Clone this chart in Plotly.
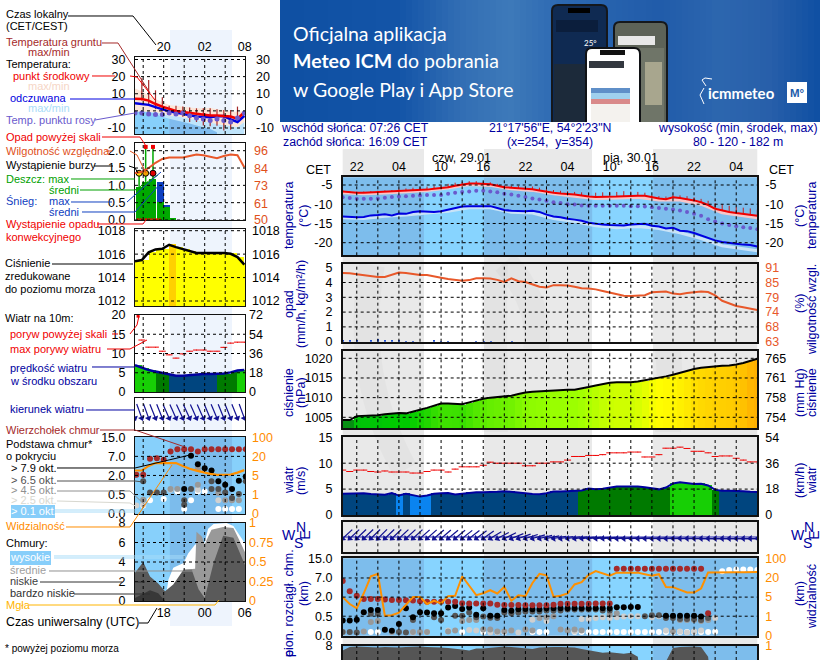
import math
import plotly.graph_objects as go

W, H = 820, 660
FONT = "Liberation Sans"
NAVY = "#0000a0"

# ---------- main (right) column, hourly from 28.01 20:00 CET ----------
hours = list(range(60))
temp_mid = [-6.7,-6.9,-7.0,-7.0,-6.9,-6.8,-6.8,-6.7,-6.6,-6.6,-6.4,-6.3,-6.2,-6.0,-5.8,-5.6,-5.2,-4.9,-4.6,-4.6,-4.7,-4.8,-5.2,-5.6,-5.7,-5.8,-5.9,-6.1,-6.4,-6.8,-7.0,-7.2,-7.3,-7.5,-7.7,-8.0,-8.1,-8.1,-8.1,-8.0,-7.9,-7.8,-7.8,-7.8,-8.2,-8.5,-8.7,-8.2,-8.4,-8.7,-9.0,-9.5,-10.2,-11.2,-11.7,-12.0,-12.3,-12.5,-12.8,-13.0]
feels_mid = [-13.2,-13.3,-13.4,-13.3,-12.9,-12.8,-12.6,-12.9,-12.4,-12.5,-12.0,-11.8,-11.9,-12.0,-11.8,-11.4,-10.9,-10.6,-10.5,-10.5,-10.4,-10.5,-11.0,-11.5,-11.7,-11.8,-11.8,-11.7,-12.0,-12.7,-13.2,-13.4,-13.8,-14.0,-14.3,-14.8,-15.1,-15.3,-15.4,-15.5,-15.5,-15.3,-15.2,-15.1,-15.6,-15.8,-16.3,-16.1,-16.9,-17.0,-17.5,-18.2,-18.8,-19.4,-19.8,-20.1,-20.3,-20.5,-20.6,-21.0]
dew_point = [-8.2,-8.4,-8.6,-8.6,-8.6,-8.5,-8.3,-8.1,-8.0,-7.9,-7.8,-7.7,-7.6,-7.6,-7.6,-7.3,-7.0,-6.8,-6.7,-6.5,-6.5,-6.7,-6.9,-7.3,-7.5,-7.8,-8.1,-8.5,-8.8,-9.1,-9.5,-9.7,-10.0,-10.1,-10.3,-10.4,-10.4,-10.4,-10.4,-10.4,-10.4,-10.5,-10.5,-10.6,-10.8,-11.0,-11.2,-11.4,-11.6,-12.0,-12.5,-13.0,-13.9,-14.5,-15.0,-15.4,-15.7,-16.0,-16.2,-16.5]
soil_top = [-6.3,-6.6,-6.7,-6.7,-6.6,-6.5,-6.4,-6.3,-6.0,-5.9,-5.7,-5.5,-5.4,-5.2,-5.0,-4.7,-4.4,-4.2,-4.0,-4.0,-4.1,-4.3,-4.7,-5.1,-5.2,-5.2,-5.3,-5.4,-5.7,-6.1,-6.3,-6.5,-6.6,-6.8,-6.9,-7.1,-7.0,-6.9,-6.8,-6.8,-6.6,-6.7,-6.8,-7.0,-7.6,-7.9,-8.0,-7.6,-7.7,-7.9,-8.2,-8.6,-9.1,-9.7,-10.0,-10.4,-10.7,-10.9,-11.1,-11.4]
hours_3 = [0,3,6,9,12,15,18,21,24,27,30,33,36,39,42,45,48,51,54,57,59]
temp_low = [-7.0,-7.3,-7.1,-6.8,-6.4,-5.8,-4.9,-5.1,-6.0,-6.4,-7.3,-7.9,-8.5,-8.4,-8.2,-8.9,-8.9,-10.0,-12.2,-13.0,-13.5]
feels_low = [-13.5,-13.7,-13.1,-12.8,-12.3,-11.8,-10.9,-10.9,-12.1,-12.3,-13.7,-14.5,-15.6,-16.1,-15.8,-16.3,-17.4,-18.9,-20.8,-21.6,-22.1]
humidity = [89.0,88.9,88.5,88.1,87.7,87.5,87.5,88.5,89.2,89.0,88.5,88.2,88.2,87.8,87.2,86.7,86.4,86.1,86.3,87.0,87.0,86.9,86.4,85.6,87.0,85.9,85.6,84.6,83.8,83.5,84.4,84.4,84.3,83.8,83.2,83.1,82.8,82.2,81.6,81.0,80.4,80.3,80.5,80.6,81.7,81.8,82.0,81.2,81.0,81.4,81.6,82.0,81.8,80.5,78.5,77.6,76.5,76.0,75.6,75.0]
rain_h = [0,1,2,4,5,6,7,8,9,10,13,14,15,19,20,21,24]
rain_mm = [.05,.1,.05,.1,.15,.12,.08,.05,.03,.03,.06,.02,.03,.02,.02,.03,.04]
pressure = [1004.3,1004.3,1005.3,1005.4,1005.5,1005.5,1005.8,1006.0,1006.1,1006.0,1006.4,1006.9,1007.4,1008.0,1008.5,1008.5,1008.4,1008.3,1008.8,1009.3,1009.7,1010.0,1010.2,1010.3,1010.5,1010.9,1011.3,1011.5,1011.6,1011.7,1011.9,1011.9,1012.0,1012.0,1012.3,1012.7,1013.1,1013.5,1013.8,1013.9,1013.9,1013.9,1014.1,1014.4,1014.8,1015.1,1015.4,1015.8,1016.3,1016.8,1017.3,1017.6,1017.8,1018.0,1018.1,1018.2,1018.4,1018.8,1019.3,1019.9]
wind = [4.1,4.15,4.2,4.2,4.05,4.0,3.9,4.25,3.75,4.1,3.75,3.55,3.75,4.1,4.2,4.25,3.95,4.1,4.35,4.4,4.4,4.4,4.5,4.6,4.5,4.35,4.2,4.05,4.0,4.2,4.55,4.55,4.6,4.7,4.75,5.1,4.95,5.05,5.3,5.5,5.5,5.5,5.5,5.35,5.15,4.95,5.3,6.1,6.3,6.1,6.0,6.05,5.7,4.85,4.7,4.7,4.7,4.6,4.5,4.45]
gusts = [8.67,8.4,8.67,8.67,8.4,8.3,8.5,8.3,8.3,8.3,8.1,8.1,8.4,8.67,8.67,8.3,8.86,9.3,9.3,9.3,9.6,10.2,10.0,10.0,10.0,10.0,9.5,9.5,10.0,10.0,10.25,10.25,10.6,11.3,11.3,11.5,11.5,11.65,12.0,12.0,12.0,12.15,12.15,11.2,11.2,11.65,12.9,12.9,13.1,12.85,12.3,12.3,12.0,11.3,11.4,11.4,10.95,10.6,10.25,10.25]
wind_dir = [47,47,46,46,46,45,46,46,47,47,47,48,48,49,49,50,50,51,52,53,54,58,62,64,68,70,72,74,76,78,80,81,82,83,84,84,85,85,86,87,87,87,87,88,88,88,88,89,89,89,90,90,90,90,90,90,90,90,90,90]
# cloud base, given as position on the five-step axis (0 km, 0.5, 2, 7, 15)
top_h = list(range(39)) + list(range(39,52)) + [52]
top_lv = [2.84,2.31,2.07,1.9,1.9,1.9,1.88,1.85,1.85,1.84,1.82,1.78,1.76,1.75,1.75,1.75,1.75,1.68,1.67,1.67,1.66,1.67,1.6,1.58,1.58,1.58,1.57,1.57,1.57,1.57,1.6,1.65,1.65,1.65,1.65,1.65,1.66,1.66,1.66,3.48,3.48,3.48,3.48,3.48,3.48,3.48,3.48,3.48,3.48,3.48,3.48,3.48,1.15]
black_h = list(range(43)) + list(range(46,52))
black_lv = [.78,.78,.81,1.21,1.33,1.33,.29,.24,.59,1.41,.95,1.21,1.19,1.16,1.16,1.45,1.53,1.38,1.45,1.07,1.41,1.02,1.02,1.33,1.28,1.36,1.38,1.36,1.36,1.41,1.41,1.41,1.41,1.41,1.41,1.41,1.41,1.41,1.41,1.47,1.47,1.48,1.48,1.03,1.03,1.03,1.03,1.02,.98]
dark_h = [0,1,2,4,5,8,9,10,13,14,16,17,18,19,20,21,22,23,24,25,26,27,28,29,30,31,32,33,34,35,36,37,38,43,44,45,46,47,48,49,50,51,52]
dark_lv = [.17,.17,.15,1.13,1.13,.17,.15,.8,.95,.8,1.02,1.02,1.2,.95,.98,.92,.9,1.2,1.15,1.2,1.25,1.25,1.25,1.3,1.3,1.3,1.35,1.35,1.35,1.35,1.35,1.3,1.3,1.0,1.05,1.05,.9,.9,.85,.85,.85,.8,.9]
gray_h = [3,4,5,7,10,11,12,15,16,17,18,19,20,21,22,23,24,26,27,28,29,30,31,32,33,34,38,39,47,48,49,50,51,52]
gray_lv = [.2,.7,.75,.17,.17,.17,.17,.2,.25,.75,.8,.8,.3,.3,.2,.2,.25,.3,.25,.9,.95,1.0,.3,.25,.3,.25,1.1,1.15,.2,.8,.8,.8,.75,.8]
light_h = [0,10,12,15,18,19,21,22,25,27,28,29,33,34,35,36,37,38,39,40,41,42,44,45,46,48,49,50,51,53]
light_lv = [.17,.15,.17,.25,.28,.25,.15,.15,.15,.82,.9,.75,.2,.85,.85,.9,.95,.9,.95,.98,1.0,1.0,.95,1.0,.25,.2,.15,.2,.25,.9]
white_h = [4,5,17,20,23,27,28,29,33,34,35,36,37,38,39,40,41,42,43,44,45,46,47,48,49,50,51,52,53,54,55,56,57,58,59]
white_lv = [.17,.17,.17,.17,.17,.17,.17,.17,.17,.17,.17,.17,.17,.17,.17,.17,.17,.17,.17,.17,.17,.17,.17,.17,.17,.17,.17,.17,.19,3.35,3.42,3.45,3.45,3.45,3.42]
visibility_lv = [2.0,1.64,1.41,2.2,3.09,3.22,1.03,1.05,1.19,1.6,2.0,2.0,1.64,1.81,1.67,2.05,2.07,3.09,2.6,2.1,2.2,2.36,2.19,2.53,1.81,2.1,2.05,2.74,3.22,3.14,2.02,2.07,2.19,2.66,2.78,3.17,3.36,3.25,3.12,3.28,3.28,3.28,3.28,3.2,3.12,3.2,2.53,2.52,2.4,2.24,2.24,2.45,3.29,3.3,3.3,3.3,3.3,3.3,3.3,3.31]
cloud_cover = [7.55,7.9,7.95,7.9,7.85,7.85,7.9,7.85,7.85,7.9,7.95,7.95,7.9,7.9,7.85,7.8,7.75,7.65,7.55,7.75,7.75,7.8,7.85,7.95,7.9,7.85,7.75,7.7,7.85,7.9,7.9,7.9,7.9,7.85,7.7,7.55,7.45,7.3,7.35,7.25,7.2,7.3,6.9,0,0,0,6.4,7.8,7.9,7.95,7.95,7.9,6.9,0,0,0,0,0,0,0]

# ---------- overview (left) column ----------
t = list(range(17))
l_temp = [7.1,6.9,6.0,4.0,2.5,1.0,-0.1,-0.6,-1.2,-1.7,-2.3,-2.7,-2.7,-2.8,-3.3,-4.6,-0.8]
l_feels = [4.4,4.0,3.5,2.2,1.0,-0.3,-1.0,-1.7,-2.5,-3.3,-3.5,-3.7,-3.1,-3.0,-5.0,-6.5,-2.9]
l_dew = [-1.3,-1.3,-1.8,-2.1,-2.1,-1.3,-1.8,-1.3,-2.9,-4.2,-4.8,-5.6,-4.8,-5.6,-6.5,-4.2,-1.3]
l_peach = [13,11.5,9,7,5,3.5,3,2.5,1.8,1.5,1.5,1.8,1,.5,-.5,-.5,-.3]
l_pale = [-.5,-.5,-.5,-.8,-1.5,-3,-3.2,-3.8,-4.6,-5.5,-6.3,-7.2,-8,-8.4,-8.8,-9.5,-6.5]
l_sky = [-.5,-.5,-.5,-1.8,-3.5,-4.6]
l_deep = [-4.6,-5.5,-6.3,-7.4,-8.6,-9.6,-10.6,-12.5]
soil_t = [1,2,3,4,5,6,7,8,9,10,11,12,13,14,15]
soil_hi = [19,18,12,8,3,3,2.5,2,1.5,1.5,1.5,1,.5,.5,2.5]
soil_lo = [6,4,1,-.3,-2,-2.5,-3.5,-6.5,-6.5,-8.5,-9,-8.7,-11.5,-11,-5.5]
rain_t = [.6,1.5,2.5,3.7,4.65,5.55]
l_rain = [.96,1.1,1.18,.53,.37,.07]
l_snow = [0,0,0,.57,.06,0]
rain_max_t = [.6,1.56,2.63]
rain_max = [1.39,2.11,2.11]
conv_t = [.4,.8,1.2,1.6,2,2.4,2.8,3.2,3.6]
l_hum = [81,82,84.5,88,90.5,91.5,91.5,91.5,92.5,93.5,93,92,91,92.5,93.5,93,85]
l_press = [1015.4,1015.5,1016.15,1016.4,1016.45,1016.8,1016.6,1016.45,1016.25,1016.1,1016.1,1016.1,1016.1,1016.1,1016.03,1015.75,1015.1]
l_wind = [7.0,6.3,5.7,5.3,4.9,4.5,4.25,4.2,4.4,4.65,4.7,4.7,4.75,4.8,5.1,5.6,5.7]
l_gust_t = [1,2,3,4,5,6,7,8,9,10,11,12,13,14,15,16]
l_gust = [13.5,11.65,11.65,10.6,9.65,8.8,9.9,10.6,10.9,10.9,10.6,10.6,11.6,12.7,12.95,12.95]
l_dir = [342,340,340,338,338,336,336,335,335,336,336,337,337,338,338,338,340]
l_top_t = t
l_top = [2.03,2.03,2.87,2.9,2.82,3.25,3.37,3.37,3.37,3.25,3.37,3.37,3.37,3.37,3.37,3.37,3.37]
l_black_t = [7,8,9,10,11,12,13,14,15,16]
l_black = [1.29,3.03,2.59,2.38,2.26,1.69,1.51,1.29,1.72,1.95]
l_dark_t = [1,2,3,4,7,7,8,11,11,12,13,14,15,16]
l_dark = [1.69,1.11,1.11,1.11,.7,.47,1.29,1.69,1.29,1.29,1.11,.82,1.03,1.69]
l_gray_t = [1,5,6,9,9,12,13,14,15]
l_gray = [.73,1.29,1.29,1.51,2.38,1.08,.7,.7,.7]
l_light_t = [0,1,5,9,12]
l_light = [.42,.47,1.25,1.25,.7]
l_white_t = [1,2,4,6,7,8,9,10,12,13,14,15]
l_white = [.42,.7,.77,1.16,.24,.7,1.16,1.16,.24,.24,.24,.24]
l_vis = [2.26,2.26,2.5,2.65,2.65,2.65,2.65,2.5,2.35,2.25,2.15,2.08,2.03,2.03,2.05,2.15,2.28]
high_t = [4.4,4.9,5.6,7.1,7.8,8.8,10.2,10.7,11.5,13.4,14.4,15.4,16.1]
high_c = [0,2.2,3.4,3.9,4.9,5.8,6,7.4,7.9,8,7.7,6.7,5.9]
mid_t = [4.4,7.1,8.8,9.0,9.8,10.2,10.7,11.2,12.9,14.4,15.1,16.1]
mid_c = [0,3.2,3.3,7.1,6.6,5.8,6.6,7.3,7.6,7.5,6.5,5.0]
low_t = [0,1.2,2.2,3.4,4.4,5.6,7.1,8.3,9.3,10.2,11.5,12.9,14.4,16.1]
low_c = [2.9,4.0,2.5,1.8,1.0,1.7,3.2,3.2,1.2,.3,3.9,6.7,6.5,3.7]
vlow_t = [0,2.2,3.4,4.4]
vlow_c = [.3,1.1,.8,.1]
fog_t = [10.4,11.4,12.4,13.4]
fog_v = [1.16,1.16,1.16,1.16]

# ---------- texts ----------
left_labels = [
 ("Czas lokalny",6,14,"#000"),("(CET/CEST)",6,26,"#000"),("Temperatura gruntu",6,42,"#a52a2a"),("max/min",28,52,"#a52a2a"),
 ("Temperatura:",6,64,"#000"),("punkt środkowy",13,76,"#f00000"),("max/min",28,86,"#f6d6c6"),("odczuwana",10,98,"#0000e0"),
 ("max/min",28,108,"#a8dcf8"),("Temp. punktu rosy",6,120,"#6a5acd"),("Opad powyżej skali",6,137,"#f00000"),("Wilgotność względna",6,151,"#e0501a"),
 ("Wystąpienie burzy",6,165,"#000"),("Deszcz: max",6,179,"#00a000"),("średni",49,190,"#00a000"),("Śnieg:",6,201,"#1040c0"),("max",49,201,"#1040c0"),
 ("średni",49,212,"#1040c0"),("Wystąpienie opadu",6,224,"#f00000"),("konwekcyjnego",6,237,"#f00000"),("Ciśnienie",5,263,"#000"),("zredukowane",5,276,"#000"),
 ("do poziomu morza",5,289,"#000"),("Wiatr na 10m:",5,318,"#000"),("poryw powyżej skali",10,334,"#f00000"),("max porywy wiatru",10,349,"#f00000"),
 ("prędkość wiatru",10,368,NAVY),("w środku obszaru",10,381,NAVY),("kierunek wiatru",10,409,NAVY),("Wierzchołek chmur",6,430,"#a52a2a"),
 ("Podstawa chmur*",6,444,"#000"),("o pokryciu",6,456,"#000"),("> 7.9 okt.",11,468,"#000"),("> 6.5 okt.",11,480,"#505050"),("> 4.5 okt.",11,490,"#909090"),
 ("> 2.5 okt.",11,500,"#d8d8d0"),("> 0.1 okt.",11,511,"#ffffff"),("Widzialność",6,526,"#ff8c00"),("Chmury:",6,543,"#000"),("wysokie",10,557,"#ffffff"),
 ("średnie",10,570,"#a0a0a0"),("niskie",10,581,"#404040"),("bardzo niskie",10,593,"#303030"),("Mgła",6,605,"#ffb400"),
]
left_links = [
 ([(68,16),(133,16),(156,45)],"#000"),([(102,43),(118,43),(150,93)],"#a52a2a"),([(92,76),(115,76)],"#f00000"),([(130,76),(137,77),(155,100)],"#f00000"),
 ([(70,99),(135,99)],"#0000e0"),([(95,120),(135,113)],"#6a5acd"),([(102,137),(140,137),(146,146)],"#f00000"),([(106,151),(112,151)],"#e0501a"),
 ([(130,151),(137,155),(146,173)],"#e0501a"),([(94,166),(113,166)],"#000"),([(129,166),(135,168),(138,173)],"#000"),([(71,179),(135,179)],"#00a000"),
 ([(80,190),(135,190),(158,175)],"#00a000"),([(71,202),(112,202)],"#1040c0"),([(127,202),(161,172)],"#1040c0"),([(82,212),(135,212),(161,183)],"#1040c0"),
 ([(97,224),(143,224),(146,220)],"#f00000"),([(52,264),(133,264)],"#000"),([(112,334),(118,334)],"#f00000"),([(130,334),(137,325),(139,316)],"#f00000"),
 ([(107,349),(130,349),(147,340)],"#f00000"),([(92,367),(135,367)],NAVY),([(86,410),(135,410)],NAVY),([(100,430),(135,430),(185,447)],"#a52a2a"),
 ([(57,468),(135,468),(190,455)],"#000"),([(57,481),(135,481),(143,482)],"#505050"),([(57,491),(130,491),(145,505)],"#909090"),([(57,501),(130,503),(137,507)],"#d8d8d0"),
 ([(55,510),(135,510)],"#a8dcf8"),([(55,512),(135,512)],"#a8dcf8"),([(66,527),(130,527),(172,465)],"#ff8c00"),([(54,556),(185,556)],"#a8dcf8"),([(54,558),(185,558)],"#a8dcf8"),
 ([(49,571),(193,571)],"#909090"),([(40,582),(122,582)],"#303030"),([(135,582),(145,582)],"#303030"),([(74,594),(150,594)],"#303030"),([(29,605),(215,605),(219,600)],"#ffb400"),
 ([(139,623),(148,623),(157,608)],"#000"),
]
header_labels = [
 ("wschód słońca: 07:26 CET",355,128),("zachód słońca: 16:09 CET",355,142),("21°17'56\"E, 54°2'23\"N",550,128),("(x=254,  y=354)",550,142),
 ("wysokość (min, środek, max)",738,128),("80 - 120 - 182 m",738,142),
]
rotated_labels = [
 ("temperatura",289,216),("(°C)",304,216),("(°C)",800,216),("temperatura",812,216),("opad",289,304),("(mm/h, kg/m²/h)",301,304),("(%)",800,304),("wilgotność wzgl.",812,310),
 ("ciśnienie",289,393),("(hPa)",301,393),("(mm Hg)",800,393),("ciśnienie",812,393),("wiatr",289,481),("(m/s)",301,481),("(km/h)",800,481),("wiatr",812,481),
 ("pion. rozciągł. chm.",289,603),("(km)",304,594),("(km)",800,594),("widzialność",812,597),("e",289,654),
]
watermark = [[(372,265),(360,330),(366,400),(405,470)],[(495,262),(493,320),(495,380),(495,432)],[(505,262),(530,290),(540,320),(536,350)],
             [(668,350),(672,390),(668,410),(668,432)]]

# ---------- helpers ----------
layout_axes, shapes, annos, traces = {}, [], [], []
_next = [2]

def fx(p): return p / W
def fy(p): return 1 - p / H

def txt(s, x, y, color="#000", anchor="left", size=11, rot=0, font=FONT):
    annos.append(dict(text=s, x=fx(x), y=fy(y), xref="paper", yref="paper", showarrow=False, xanchor=anchor, yanchor="middle",
                      textangle=rot, borderpad=0, borderwidth=0, font=dict(family=font, size=size, color=color)))

def link(pts, color, width=1):
    d = "M" + " L".join(f"{fx(a):.5f},{fy(b):.5f}" for a, b in pts)
    shapes.append(dict(type="path", path=d, xref="paper", yref="paper", line=dict(color=color, width=width), layer="above"))

def box(x0, y0, x1, y1, color, layer="below"):
    shapes.append(dict(type="rect", xref="paper", yref="paper", x0=fx(x0), x1=fx(x1), y0=fy(y0), y1=fy(y1), fillcolor=color, line=dict(width=0), layer=layer))

def anchors(p0, p1, va, pa, vb, pb):
    k = (vb - va) / (pb - pa)
    return [va + (p1 - pa) * k, va + (p0 - pa) * k]

def panel(px, py, xr, yr, yticks=None, ylabels=None, ygrid=None, xgrid=None, xticks=None, xlabels=None, xside=None,
          rvals=None, rlabels=None, rrange=None, rcolor="#000", lw=1.0, lstand=6, rstand=6, size=11.5):
    n = _next[0]; _next[0] += 2
    m = n + 1
    xa = dict(domain=[fx(px[0]), fx(px[1])], range=xr, anchor=f"y{n}", showgrid=False, zeroline=False, showline=True, mirror=True,
              linecolor="#111", linewidth=lw, ticks="", fixedrange=True, showticklabels=False, automargin=False)
    if xticks:
        xa.update(tickmode="array", tickvals=xticks, ticktext=xlabels, showticklabels=True, side=xside, ticklabelstandoff=0,
                  tickfont=dict(family=FONT, size=size + 1, color="#000"), ticklabeloverflow="allow")
    ya = dict(domain=[fy(py[1]), fy(py[0])], range=yr, anchor=f"x{n}", showgrid=False, zeroline=False, showline=True, mirror=True,
              linecolor="#111", linewidth=lw, ticks="", fixedrange=True, showticklabels=bool(yticks), automargin=False)
    if yticks:
        ya.update(tickmode="array", tickvals=yticks, ticktext=ylabels, ticklabelstandoff=lstand, ticklabeloverflow="allow",
                  tickfont=dict(family=FONT, size=size + 1, color="#000"))
    layout_axes[f"xaxis{n}"] = xa
    layout_axes[f"yaxis{n}"] = ya
    if rvals:
        rr = rrange if rrange else yr
        layout_axes[f"yaxis{m}"] = dict(overlaying=f"y{n}", side="right", anchor=f"x{n}", range=rr, showgrid=False, automargin=False,
                                        zeroline=False, showline=False, ticks="", fixedrange=True, tickmode="array", tickvals=rvals, ticktext=rlabels,
                                        ticklabelstandoff=rstand, ticklabeloverflow="allow", tickfont=dict(family=FONT, size=size + 1, color=rcolor))
        # an overlaying axis is only drawn when a trace lives on it
        add(go.Scatter(x=[xr[0]], y=[rr[0]], mode="markers", marker=dict(size=1, opacity=0)), n, m)
    for v in (xgrid or []):
        shapes.append(dict(type="line", xref=f"x{n}", yref=f"y{n} domain", x0=v, x1=v, y0=0, y1=1, layer="above",
                           line=dict(color="#000", width=1, dash="3px,3px")))
    for v in (ygrid or []):
        shapes.append(dict(type="line", xref=f"x{n} domain", yref=f"y{n}", x0=0, x1=1, y0=v, y1=v, layer="above",
                           line=dict(color="#000", width=1, dash="3px,3px")))
    return n, m

def add(tr, n, m=None):
    tr.update(xaxis=f"x{n}", yaxis=f"y{m or n}", showlegend=False, hoverinfo="skip")
    traces.append(tr)

def line(x, y, n, color, width=2):
    add(go.Scatter(x=x, y=y, mode="lines", line=dict(color=color, width=width)), n)

def dots(x, y, n, color, size=6):
    add(go.Scatter(x=x, y=y, mode="markers", marker=dict(color=color, size=size, line=dict(width=0))), n)

def band(x, top, low, n, color):
    add(go.Scatter(x=list(x) + list(x)[::-1], y=list(top) + list(low)[::-1], mode="lines", fill="toself", fillcolor=color, line=dict(width=0)), n)

def sticks(x, hi, lo, n, color, width=1):
    xs, ys = [], []
    for a, b, c in zip(x, hi, lo):
        xs += [a, a, None]; ys += [b, c, None]
    add(go.Scatter(x=xs, y=ys, mode="lines", line=dict(color=color, width=width)), n)

def arrows(xs, dirs, n, xscale, yscale, yc, length):
    xx, yy, ang = [], [], []
    for a, d in zip(xs, dirs):
        r = math.radians(d)
        xx += [a, a + length * math.sin(r) / xscale, None]
        yy += [yc, yc + length * math.cos(r) / yscale, None]
        ang.append((d + 180) % 360)
    add(go.Scatter(x=xx, y=yy, mode="lines", line=dict(color="#101090", width=1.2)), n)
    add(go.Scatter(x=list(xs), y=[yc] * len(xs), mode="markers", marker=dict(symbol="triangle-up", size=6, color="#101090", angle=ang, line=dict(width=0))), n)

def mix(stops, x):
    for (a, ca), (b, cb) in zip(stops, stops[1:]):
        if a <= x <= b:
            f = (x - a) / (b - a)
            return "rgb(" + ",".join(str(int(p + (q - p) * f)) for p, q in zip(ca, cb)) + ")"
    return "rgb(15,80,163)"

def rrect(x0, y0, x1, y1, r, fill, border):
    d = (f"M{fx(x0+r):.5f},{fy(y0):.5f} L{fx(x1-r):.5f},{fy(y0):.5f} Q{fx(x1):.5f},{fy(y0):.5f} {fx(x1):.5f},{fy(y0+r):.5f} "
         f"L{fx(x1):.5f},{fy(y1):.5f} L{fx(x0):.5f},{fy(y1):.5f} L{fx(x0):.5f},{fy(y0+r):.5f} Q{fx(x0):.5f},{fy(y0):.5f} {fx(x0+r):.5f},{fy(y0):.5f} Z")
    shapes.append(dict(type="path", path=d, xref="paper", yref="paper", fillcolor=fill, line=dict(color=border, width=2), layer="below"))

# ---------- page backgrounds ----------
DAY_BANDS = [(11.56, 20.1), (35.5, 44.2)]
RX = (342.7, 757.3)
LX = (135, 245)
box(170, 30, 232, 626, "#eef4fd")
for a, b in [(342.7, 424), (484, 592), (653, 757.3)]:
    box(a, 149, b, 660, "#e9e9e9")
for c in watermark:
    p = [f"{fx(a):.5f},{fy(b):.5f}" for a, b in c]
    shapes.append(dict(type="path", path=f"M{p[0]} C{p[1]} {p[2]} {p[3]}", xref="paper", yref="paper", line=dict(color="rgba(0,0,0,0.025)", width=26), layer="below"))

# banner
BANNER = [(280, (15, 80, 163)), (400, (20, 85, 168)), (460, (50, 110, 180)), (510, (62, 122, 186)), (560, (45, 105, 178)), (660, (33, 92, 170)),
          (720, (45, 103, 175)), (770, (40, 95, 170)), (820, (15, 80, 163))]
for x in range(280, 820, 6):
    box(x, 0, x + 7, 122, mix(BANNER, x + 3))
rrect(614, 22, 667, 124, 6, "#5d6358", "#15181c")
box(617, 48, 664, 122, "#6f7568")
box(645, 62, 662, 105, "#a8a68e")
box(618, 36, 655, 45, "#e8e8e8")
rrect(552, 5, 607, 124, 6, "#0f2a52", "#14171c")
box(556, 20, 598, 32, "#0b1e3c")
box(554, 64, 605, 122, "#1c2a3a")
box(568, 8, 590, 13, "#000000")
rrect(586, 48, 640, 124, 6, "#ffffff", "#101215")
box(589, 61, 624, 68, "#33383f")
box(600, 50, 625, 55, "#111111")
box(591, 88, 630, 93, "#5f8fc8")
box(591, 93, 630, 99, "#9fd0ee")
box(591, 99, 630, 104, "#d98a8a")
box(591, 104, 630, 122, "#f4f2ee")
box(0, 122, 820, 125, "#ffffff")
box(787, 82, 807, 103, "#ffffff")
link([(706, 86), (702, 80), (705, 78), (712, 79)], "#ffffff", 1)
link([(704, 88), (700, 95), (704, 104)], "#ffffff", 1)
txt("Oficjalna aplikacja", 293, 33, "#ffffff", size=19.5, font="Lato")
txt("<b>Meteo ICM</b> do pobrania", 293, 61, "#ffffff", size=19.5, font="Lato")
txt("w Google Play i App Store", 293, 89, "#ffffff", size=19.5, font="Lato")
txt("<b>icmmeteo</b>", 708, 93, "#ffffff", size=15, font="Lato")
txt("<b>M°</b>", 797, 93, "#1d5dab", anchor="center", size=11.5)
txt("25°", 590, 43, "#ffffff", anchor="center", size=8, font="Lato")

# ---------- left column ----------
lgrid = [1.2, 4.2, 7.2, 10.2, 13.2]
LT = [0, 16.1]
LTOP = [4.2, 10.2, 16.05]
def sky(n, bright="#87d0fb", dark="#7cbcec"):
    shapes.append(dict(type="rect", xref=f"x{n}", yref=f"y{n} domain", x0=0, x1=16.1, y0=0, y1=1, fillcolor=bright, line=dict(width=0), layer="below"))
    shapes.append(dict(type="rect", xref=f"x{n}", yref=f"y{n} domain", x0=5.1, x1=14.2, y0=0, y1=1, fillcolor=dark, line=dict(width=0), layer="below"))

# temperature
yr = anchors(57, 134, 30, 59.5, -10, 128)
n, _ = panel(LX, (57, 134), LT, yr, [30, 20, 10, 0, -10], ["30", "20", "10", "0", "-10"], [30, 20, 10, 0, -10], lgrid,
             LTOP, ["20", "02", "08"], "top", rvals=[30, 20, 10, 0, -10], rlabels=["30", "20", "10", "0", "-10"], rstand=10)
band(t, l_peach, l_pale, n, "#fde6d8")
band(t, l_pale, [-20] * 17, n, "#bfe4fb")
band(list(range(6)), l_sky, [-20] * 6, n, "#87d0fb")
band(list(range(5, 13)), l_deep, [-20] * 8, n, "#80bcee")
sticks(soil_t, soil_hi, soil_lo, n, "#a52a2a", 1.2)
line(t, l_feels, n, "#0000e0", 2.5)
line(t, l_temp, n, "#f00000", 2.5)
dots(t, l_dew, n, "#6a5acd", 5)

# rain and humidity
yr = anchors(143, 220, 2.0, 150.7, 0, 220)
n, m = panel(LX, (143, 220), LT, yr, [2, 1.5, 1, .5, 0], ["2.0", "1.5", "1.0", "0.5", "0.0"], [2, 1.5, 1, .5, 0], lgrid,
             rvals=[96, 84, 73, 61, 50], rlabels=["96", "84", "73", "61", "50"], rrange=anchors(143, 220, 96, 150.7, 50, 220), rcolor="#e0501a", rstand=8)
add(go.Bar(x=rain_t, y=l_rain, width=1, marker=dict(color="#00a800", line=dict(width=0))), n)
add(go.Bar(x=rain_t, y=l_snow, base=l_rain, width=1, marker=dict(color="#1040c0", line=dict(width=0))), n)
sticks(rain_max_t, rain_max, [.96, 1.1, 1.18], n, "#00a800", 1.5)
add(go.Scatter(x=rain_max_t[1:], y=rain_max[1:], mode="markers", marker=dict(symbol="square", color="#f00000", size=4, line=dict(width=0))), n)
add(go.Scatter(x=rain_max_t, y=[1.35] * 3, mode="markers", marker=dict(color=["#ffe000", "#f0a000", "#e00000"], size=6, line=dict(color="#000", width=1))), n)
add(go.Scatter(x=conv_t, y=[0.02] * len(conv_t), mode="markers", marker=dict(symbol="square", color="#f00000", size=2, line=dict(width=0))), n)
add(go.Scatter(x=t, y=l_hum, mode="lines", line=dict(color="#e8582a", width=2)), n, m)

# pressure
yr = anchors(229.3, 306, 1018, 230.7, 1012, 301)
n, _ = panel(LX, (229.3, 306), LT, yr, [1018, 1016, 1014, 1012], ["1018", "1016", "1014", "1012"], [1018, 1016, 1014, 1012], lgrid,
             rvals=[1018, 1016, 1014, 1012], rlabels=["1018", "1016", "1014", "1012"], rstand=6)
add(go.Bar(x=[a + .5 for a in t], y=[v - 1010 for v in l_press], base=1010, width=1,
           marker=dict(color=l_press, cmin=1015, cmax=1017, colorscale=[[0, "#ffff00"], [.8, "#ffff00"], [.85, "#ffd000"], [1, "#ffd000"]], line=dict(width=0))), n)
line(t, l_press, n, "#000", 2.5)

# wind
WIND_SCALE = [[0, "#0a84f0"], [.475, "#0a84f0"], [.475, "#00457f"], [.591, "#00457f"], [.591, "#007a00"], [.7, "#007a00"], [.7, "#17cf05"], [1, "#17cf05"]]
n, _ = panel(LX, (315, 392), LT, [0, 20], [20, 15, 10, 5, 0], ["20", "15", "10", "5", "0"], [15, 10, 5], lgrid,
             rvals=[20, 15, 10, 5, 0], rlabels=["72", "54", "36", "18", "0"], rstand=3)
add(go.Bar(x=[a + .5 for a in t], y=l_wind, width=1, marker=dict(color=l_wind, cmin=0, cmax=8, colorscale=WIND_SCALE, line=dict(width=0))), n)
line(t, l_wind, n, NAVY, 2.5)
add(go.Scatter(x=l_gust_t, y=l_gust, mode="markers", marker=dict(size=1, color="#f00000"),
               error_x=dict(type="constant", value=.5, width=0, color="#f00000", thickness=1)), n)
add(go.Scatter(x=[.45], y=[19.7], mode="markers", marker=dict(symbol="square", color="#f00000", size=3, line=dict(width=0))), n)

# direction
n, _ = panel(LX, (398, 430), LT, [0, 1], xgrid=lgrid)
arrows(t, l_dir, n, 6.83, 32, .37, 15)

# cloud base
ROW_VALS = [4, 3, 2, 1, 0]
n, m = panel(LX, (436.7, 514), LT, [-.02, 4.03], ROW_VALS, ["15.0", "7.0", "2.0", "0.5", "0.0"], [3, 2, 1], lgrid,
             rvals=ROW_VALS, rlabels=["100", "20", "5", "1", "0"], rcolor="#ff8c00", rstand=6)
sky(n)
shift = lambda a: [v + .2 for v in a]
dots(shift(l_white_t), l_white, n, "#ffffff")
dots(shift(l_light_t), l_light, n, "#d0d0d0")
dots(shift(l_gray_t), l_gray, n, "#999999")
dots(shift(l_dark_t), l_dark, n, "#505050")
dots(shift(l_black_t), l_black, n, "#000000")
dots(shift(l_top_t), l_top, n, "#a52a2a")
line(t, l_vis, n, "#ff9000", 2.2)

# clouds
n, _ = panel(LX, (523, 601), LT, [0, 8], [8, 6, 4, 2, 0], ["8", "6", "4", "2", "0"], [6, 4, 2], lgrid, LTOP, ["18", "00", "06"], "bottom",
             rvals=[8, 6, 4, 2, 0], rlabels=["1", "0.75", "0.5", "0.25", "0"], rcolor="#ff8c00", rstand=3)
sky(n)
band(high_t, high_c, [0] * len(high_t), n, "#ffffff")
band(mid_t, mid_c, [0] * len(mid_t), n, "#999999")
band(low_t, low_c, [0] * len(low_t), n, "#5a5a5a")
band(vlow_t, vlow_c, [0] * len(vlow_t), n, "#383838")
add(go.Bar(x=fog_t, y=fog_v, width=.45, marker=dict(color="#ffb400", line=dict(width=0))), n)

# ---------- right column ----------
rgrid = list(range(2, 59, 3))
RT = [0, 59]
def rsky(n):
    shapes.append(dict(type="rect", xref=f"x{n}", yref=f"y{n} domain", x0=0, x1=59, y0=0, y1=1, fillcolor="#7dbdec", line=dict(width=0), layer="below"))
    for a, b in DAY_BANDS:
        shapes.append(dict(type="rect", xref=f"x{n}", yref=f"y{n} domain", x0=a, x1=b, y0=0, y1=1, fillcolor="#87d4ff", line=dict(width=0), layer="below"))

top_ticks = list(range(2, 59, 6))
top_names = ["22", "04", "10", "16", "22", "04", "10", "16", "22", "04"]
ticks = [-5, -10, -15, -20]
n, _ = panel(RX, (177.3, 255.3), RT, anchors(177.3, 255.3, -5, 185, -20, 242.7), ticks, ["-5", "-10", "-15", "-20"], ticks, rgrid,
             top_ticks, top_names, "top", rvals=ticks, rlabels=["-5", "-10", "-15", "-20"], lw=1.5, rstand=7)
rsky(n)
line(hours_3, temp_low, n, "#f7c6c8", 3)
line(hours_3, feels_low, n, "#c9e3f7", 3)
sticks(hours, soil_top, temp_mid, n, "#c02020", 1)
dots(hours, dew_point, n, "#6a5acd", 4)
line(hours, feels_mid, n, "#0000e0", 2)
line(hours, temp_mid, n, "#f00000", 2)

n, m = panel(RX, (264, 341.7), RT, anchors(264, 341.7, 5, 267.7, 0, 341.7), [5, 4, 3, 2, 1, 0], ["5", "4", "3", "2", "1", "0"], [4, 3, 2, 1], rgrid,
             rvals=[91, 85.4, 79.8, 74.2, 68.6, 63], rlabels=["91", "85", "79", "74", "68", "63"], rrange=anchors(264, 341.7, 91, 267.7, 63, 341.7), rcolor="#e8582a", lw=1.5, rstand=7)
add(go.Bar(x=rain_h, y=rain_mm, width=.15, marker=dict(color="#2050d0", line=dict(width=0))), n)
add(go.Scatter(x=hours, y=humidity, mode="lines", line=dict(color="#e8582a", width=2)), n, m)

PRESS_SCALE = [[0, "#0a7a14"], [.02, "#00b810"], [.12, "#00cc00"], [.25, "#33dd00"], [.38, "#66ee00"], [.5, "#99ff00"], [.62, "#c8ff00"], [.7, "#ffff00"], [.8, "#ffee00"], [.9, "#ffd000"], [1, "#ffb000"]]
pr = [1020, 1015, 1010, 1005]
n, _ = panel(RX, (350.7, 428.3), RT, anchors(350.7, 428.3, 1020, 358.3, 1005, 417.3), pr, ["1020", "1015", "1010", "1005"], pr, rgrid,
             rvals=pr, rlabels=["765", "761", "758", "754"], lw=1.5, rstand=7)
add(go.Bar(x=hours, y=[v - 1000 for v in pressure], base=1000, width=1, marker=dict(color=pressure, cmin=1004.2, cmax=1019.6, colorscale=PRESS_SCALE, line=dict(width=0))), n)
line(hours, pressure, n, "#000", 2)

n, _ = panel(RX, (437.3, 515), RT, [0, 15], [15, 10, 5, 0], ["15", "10", "5", "0"], [10, 5], rgrid,
             rvals=[15, 10, 5, 0], rlabels=["54", "36", "18", "0"], lw=1.5, rstand=7)
add(go.Bar(x=hours, y=wind, width=1, marker=dict(color=wind, cmin=0, cmax=8, colorscale=WIND_SCALE, line=dict(width=0))), n)
line(hours, wind, n, NAVY, 2)
add(go.Scatter(x=hours, y=gusts, mode="markers", marker=dict(size=1, color="#f00000"),
               error_x=dict(type="constant", value=.5, width=0, color="#f00000", thickness=1)), n)

n, _ = panel(RX, (521.7, 552.3), RT, [0, 1], xgrid=rgrid, lw=1.5)
line(RT, [.5, .5], n, "#2020b0", 1)
arrows(hours, wind_dir, n, 7.03, 30.6, .45, 13)
for x_, y_, s_, r_ in [(288.6, 535, "W", 0), (300.7, 527, "N", 0), (304.8, 535, "E", -90), (298, 543, "S", 0),
                       (798, 535, "W", 0), (808.6, 527, "N", 0), (813.8, 535, "E", -90), (807, 543, "S", 0)]:
    txt(s_, x_, y_, NAVY, anchor="center", size=14, rot=r_)

n, m = panel(RX, (558.3, 635.7), RT, [-.02, 4.03], ROW_VALS, ["15.0", "7.0", "2.0", "0.5", "0.0"], [3, 2, 1], rgrid,
             rvals=ROW_VALS, rlabels=["100", "20", "5", "1", "0"], rcolor="#ff8c00", lw=1.5, rstand=7)
rsky(n)
dots(white_h, white_lv, n, "#ffffff")
dots(light_h, light_lv, n, "#cfcfcf")
dots(gray_h, gray_lv, n, "#999999")
dots(dark_h, dark_lv, n, "#555555")
dots(black_h, black_lv, n, "#000000")
dots(top_h, top_lv, n, "#a52a2a")
line(hours, visibility_lv, n, "#ff9000", 2)

n, _ = panel(RX, (646, 660), RT, anchors(646, 660, 8, 646, 6.56, 660), [8], ["8"], rvals=[8], rlabels=["1"], rcolor="#ff8c00", lw=1.5, rstand=7, xgrid=rgrid)
rsky(n)
add(go.Scatter(x=hours, y=cloud_cover, mode="lines", fill="tozeroy", fillcolor="#555555", line=dict(width=0)), n)

# ---------- texts ----------
box(11, 505, 55, 518, "#87cefa")
box(10, 551, 51, 565, "#87cefa")
for a, b, c, d in left_labels:
    txt(a, b, c, d)
txt("Czas uniwersalny (UTC)", 6, 622, "#000", size=12.3)
for pts, col in left_links:
    link(pts, col)
txt("* powyżej poziomu morza", 5, 648, "#000", size=10)
for a, b, c in header_labels:
    txt(a, b, c, NAVY, anchor="center", size=12.3)
txt("czw, 29.01", 461.6, 158, "#000", anchor="center", size=12.5)
txt("pią, 30.01", 630, 158, "#000", anchor="center", size=12.5)
txt("CET", 318.6, 170, "#000", anchor="center", size=12.5)
txt("CET", 781.7, 170, "#000", anchor="center", size=12.5)
for a, b, c in rotated_labels:
    txt(a, b, c, NAVY, anchor="center", size=12.5, rot=-90)

fig = go.Figure(traces)
fig.update_layout(width=W, height=H, autosize=False, margin=dict(l=0, r=0, t=0, b=0, pad=0, autoexpand=False), paper_bgcolor="#ffffff", plot_bgcolor="rgba(0,0,0,0)",
                  showlegend=False, barmode="overlay", bargap=0, shapes=shapes, annotations=annos, font=dict(family=FONT), **layout_axes)
fig.write_html("out.html", config=dict(displayModeBar=False), post_script="document.body.style.margin='0';document.body.style.overflow='hidden';")
